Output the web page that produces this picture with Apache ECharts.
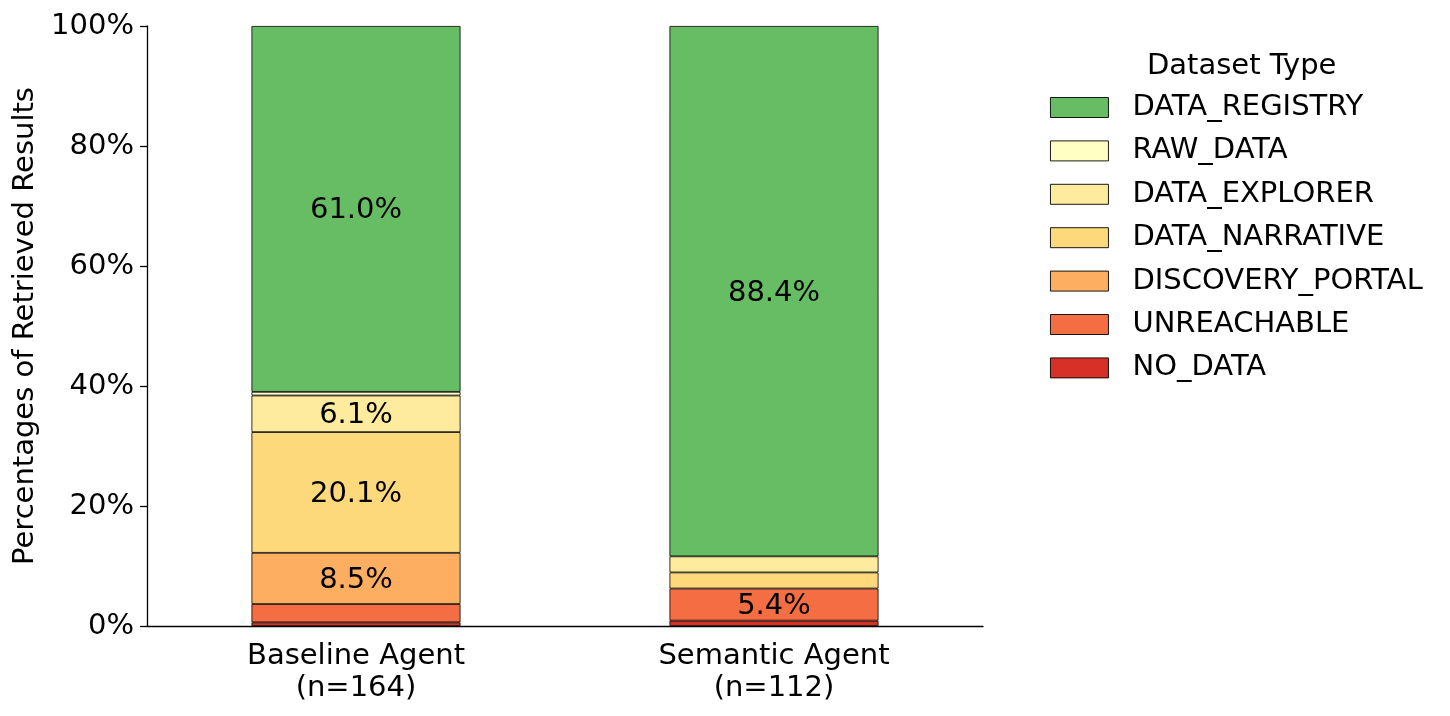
<!DOCTYPE html>
<html>
<head>
<meta charset="utf-8">
<script src="https://cdn.jsdelivr.net/npm/echarts@6/dist/echarts.min.js"></script>
<style>
html,body{margin:0;padding:0;background:#fff;}
#chart{width:1450px;height:716px;}
</style>
</head>
<body>
<div id="chart"></div>
<script>
// Data
const categories = ['Baseline Agent\n(n=164)', 'Semantic Agent\n(n=112)'];
const totals = [164, 112];
const typeNames = ['NO_DATA', 'UNREACHABLE', 'DISCOVERY_PORTAL', 'DATA_NARRATIVE', 'DATA_EXPLORER', 'RAW_DATA', 'DATA_REGISTRY'];
// counts per type: [Baseline, Semantic]
const NO_DATA = [1, 1];
const UNREACHABLE = [5, 6];
const DISCOVERY_PORTAL = [14, 0];
const DATA_NARRATIVE = [33, 3];
const DATA_EXPLORER = [10, 3];
const RAW_DATA = [1, 0];
const DATA_REGISTRY = [100, 99];
const yTicks = [0, 20, 40, 60, 80, 100];

const counts = [NO_DATA, UNREACHABLE, DISCOVERY_PORTAL, DATA_NARRATIVE, DATA_EXPLORER, RAW_DATA, DATA_REGISTRY];
const colors = ['#d73027', '#f46d43', '#fdae61', '#fed97b', '#feeb9e', '#ffffc4', '#66bd63'];
const FONT = 'DejaVu Sans';
const FS = 29;

const series = typeNames.map((name, i) => ({
  name: name,
  type: 'bar',
  stack: 'total',
  barWidth: '50%',
  itemStyle: { color: colors[i], borderColor: '#000', borderWidth: 0.8 },
  label: {
    show: true,
    position: 'inside',
    offset: [0, 2],
    color: '#000',
    fontFamily: FONT,
    fontSize: FS,
    formatter: p => (p.value > 5 ? p.value.toFixed(1) + '%' : '')
  },
  emphasis: { disabled: true },
  data: counts[i].map((c, j) => (c === 0 ? null : c / totals[j] * 100))
}));

const chart = echarts.init(document.getElementById('chart'), null, { renderer: 'canvas' });
chart.setOption({
  animation: false,
  backgroundColor: '#fff',
  title: {
    text: 'Dataset Type',
    left: 1142,
    top: 47,
    textStyle: { fontFamily: FONT, fontSize: FS, fontWeight: 'normal', color: '#000' }
  },
  legend: {
    orient: 'vertical',
    left: 1050,
    top: 93,
    padding: 0,
    itemWidth: 58,
    itemHeight: 20,
    itemGap: 14.4,
    icon: 'rect',
    itemStyle: { borderColor: '#000', borderWidth: 0.9 },
    data: typeNames.slice().reverse(),
    textStyle: { fontFamily: FONT, fontSize: FS, color: '#000', lineHeight: 29, padding: [0, 0, 0, 19] }
  },
  grid: { left: 147, right: 467, top: 26, bottom: 90, containLabel: false },
  xAxis: {
    type: 'category',
    data: categories,
    axisLine: { lineStyle: { color: '#000', width: 1.3 } },
    axisTick: { alignWithLabel: true, length: 7, lineStyle: { color: '#000', width: 1.3 } },
    axisLabel: { fontFamily: FONT, fontSize: FS, color: '#000', lineHeight: 31.5, margin: 15 }
  },
  yAxis: {
    type: 'value',
    min: yTicks[0],
    max: yTicks[yTicks.length - 1],
    interval: 20,
    name: 'Percentages of Retrieved Results',
    nameLocation: 'middle',
    nameGap: 100,
    nameTextStyle: { fontFamily: FONT, fontSize: FS, color: '#000' },
    splitLine: { show: false },
    axisLine: { show: true, lineStyle: { color: '#000', width: 1.3 } },
    axisTick: { show: true, length: 7, lineStyle: { color: '#000', width: 1.3 } },
    axisLabel: { fontFamily: FONT, fontSize: FS, color: '#000', margin: 13, lineHeight: 33, verticalAlign: 'middle', padding: [5, 0, 0, 0], formatter: '{value}%' }
  },
  series: series
});
</script>
</body>
</html>
